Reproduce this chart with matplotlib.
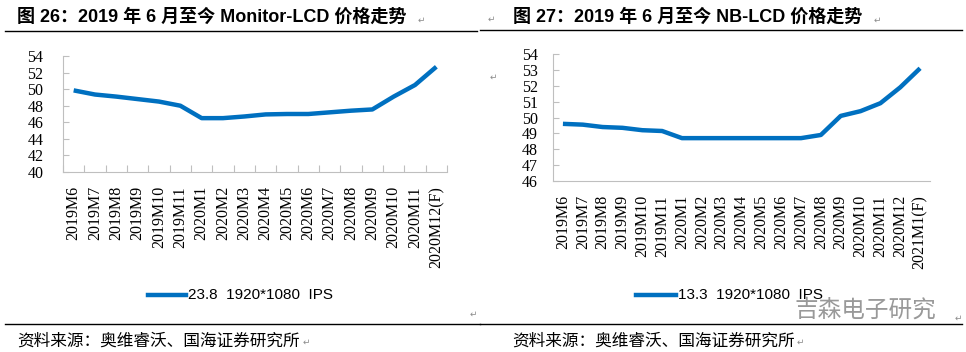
import matplotlib
matplotlib.use('Agg')
import matplotlib.pyplot as plt
from matplotlib.lines import Line2D

# data
mon_months = ['2019M6', '2019M7', '2019M8', '2019M9', '2019M10', '2019M11',
              '2020M1', '2020M2', '2020M3', '2020M4', '2020M5', '2020M6',
              '2020M7', '2020M8', '2020M9', '2020M10', '2020M11', '2020M12(F)']
mon_price = [49.85, 49.35, 49.1, 48.8, 48.5, 48.0, 46.5, 46.5, 46.7, 46.95,
             47.0, 47.0, 47.2, 47.4, 47.55, 49.1, 50.5, 52.7]

nb_months = ['2019M6', '2019M7', '2019M8', '2019M9', '2019M10', '2019M11',
             '2020M1', '2020M2', '2020M3', '2020M4', '2020M5', '2020M6',
             '2020M7', '2020M8', '2020M9', '2020M10', '2020M11', '2020M12',
             '2021M1(F)']
nb_price = [49.6, 49.55, 49.4, 49.35, 49.2, 49.15, 48.7, 48.7, 48.7, 48.7,
            48.7, 48.7, 48.7, 48.9, 50.1, 50.4, 50.9, 51.9, 53.1]

mon_label = '23.8  1920*1080  IPS'
nb_label = '13.3  1920*1080  IPS'

BLUE = '#0070C0'
AXC = '#BFBFBF'
CJK = ['Liberation Sans', 'Noto Sans CJK SC']
SERIF = 'Liberation Serif'

fig = plt.figure(figsize=(9.66, 3.52), dpi=100)


def px(x, y):
    return x / 966, 1 - y / 352


def style_axis(ax, months, xticks_on, ypad):
    for s in ['top', 'right']:
        ax.spines[s].set_visible(False)
    for s in ['left', 'bottom']:
        ax.spines[s].set_color(AXC)
        ax.spines[s].set_linewidth(0.8)
    ax.set_xticks(range(len(months)))
    ax.set_xticklabels(months, rotation=90, fontfamily=SERIF, fontsize=11.5)
    ax.tick_params(axis='x', length=0, pad=10)
    if xticks_on:
        ax.set_xticks([i + 0.5 for i in range(-1, len(months))], minor=True)
        ax.tick_params(axis='x', which='minor', direction='in', length=5,
                       color=AXC, width=0.8)
    ax.tick_params(axis='y', direction='in', length=4, color=AXC, width=0.8,
                   pad=ypad, labelsize=11.5)
    for t in ax.get_yticklabels():
        t.set_fontfamily(SERIF)
    ax.set_xlim(-0.5, len(months) - 0.5)


# left chart
ax1 = fig.add_axes([63 / 966, 1 - 172 / 352, 384 / 966, 116 / 352])
ax1.plot(range(len(mon_months)), mon_price, color=BLUE, lw=3.2,
         solid_capstyle='butt', solid_joinstyle='round')
ax1.set_ylim(40, 54)
ax1.set_yticks(range(40, 55, 2))
style_axis(ax1, mon_months, True, 14)

# right chart
ax2 = fig.add_axes([553 / 966, 1 - 181 / 352, 377 / 966, 127 / 352])
ax2.plot(range(len(nb_months)), nb_price, color=BLUE, lw=3.2,
         solid_capstyle='butt', solid_joinstyle='round')
ax2.set_ylim(46, 54)
ax2.set_yticks(range(46, 55, 1))
style_axis(ax2, nb_months, False, 11)

# legends drawn as figure lines + text
for (x0, x1, y, lab) in [(148, 186, 295, mon_label), (636, 676, 295, nb_label)]:
    fig.add_artist(Line2D([x0 / 966, x1 / 966], [1 - y / 352] * 2,
                          color=BLUE, lw=3.2))
    fig.text(*px(x1 + 2, y), lab, fontsize=11, fontfamily='Liberation Sans',
             va='center', ha='left')

# titles
fig.text(*px(17, 17), '图 26：2019 年 6 月至今 Monitor-LCD 价格走势',
         fontsize=13, fontweight='bold', family=CJK, va='center')
fig.text(*px(513, 17), '图 27：2019 年 6 月至今 NB-LCD 价格走势',
         fontsize=13, fontweight='bold', family=CJK, va='center')

# rules under titles and above source lines
for (x0, x1, y) in [(5, 477, 31), (480, 962, 30), (5, 480, 324), (480, 962, 324)]:
    fig.add_artist(Line2D([x0 / 966, x1 / 966], [1 - y / 352] * 2,
                          color='black', lw=1.0))

# source notes
for x in [17, 512]:
    fig.text(*px(x, 341), '资料来源：奥维睿沃、国海证券研究所', fontsize=12,
             family=['Noto Sans CJK SC', 'DejaVu Sans'], va='center')

# paragraph marks from the source document
for (x, y) in [(421, 20), (877, 20), (491, 19), (493, 77), (473, 314),
               (958, 318), (306, 342), (800, 342)]:
    fig.text(*px(x, y), '\u21b5', fontsize=6.5, color='#8C8C8C',
             family='DejaVu Sans', va='center', ha='center')

# watermark
fig.text(*px(795, 310), '吉森电子研究', fontsize=17, color='#999999',
         family=['Noto Sans CJK SC', 'DejaVu Sans'], va='center',
         fontweight='light')

fig.savefig('out.png', dpi=100)
